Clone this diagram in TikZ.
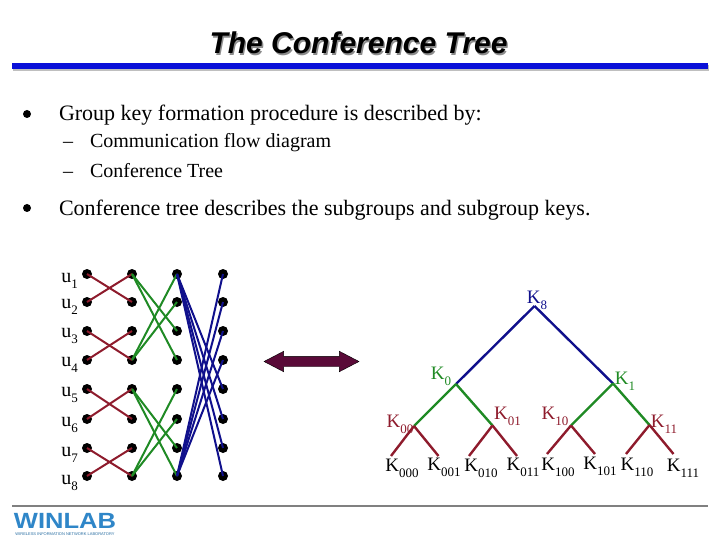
\documentclass[tikz,border=0pt]{standalone}
\usepackage{fontspec}
\setmainfont{Liberation Serif}
\setsansfont{Liberation Sans}
\usetikzlibrary{shapes.arrows}
\definecolor{cblue}{HTML}{10108C}
\definecolor{cgreen}{HTML}{1F8A24}
\definecolor{cred}{HTML}{8E1B2C}
\definecolor{crule}{HTML}{0A10D8}
\definecolor{clogo}{HTML}{2F86C8}
\definecolor{cmaroon}{HTML}{5A0A38}
\newcommand{\sbs}[1]{\raisebox{-0.32em}{\fontsize{13}{13}\selectfont #1}}
\tikzset{
  every node/.style={inner sep=0pt, outer sep=0pt},
  title/.style={font=\sffamily\bfseries\itshape\fontsize{30}{30}\selectfont, anchor=base},
  bigtext/.style={font=\fontsize{22}{22}\selectfont, anchor=base west},
  subtext/.style={font=\fontsize{20}{20}\selectfont, anchor=base west},
  bullet/.style={circle, fill=black, minimum size=8pt},
  dot/.style={circle, fill=black, minimum size=10pt},
  user/.style={font=\fontsize{20}{20}\selectfont, anchor=base},
  keylabel/.style={font=\fontsize{19}{19}\selectfont, anchor=base},
  redline/.style={draw=cred, line width=2pt},
  greenline/.style={draw=cgreen, line width=2pt},
  blueline/.style={draw=cblue, line width=2pt},
  treeline/.style={line width=2.4pt},
}

\begin{document}
\begin{tikzpicture}[x=1pt, y=-1pt]
  \useasboundingbox (0,0) rectangle (720,540);
  % heading
  \node[title, text=black!45] (ts) at (359.8,55.5) {The Conference Tree};
  \node[title] (t) at (358.5,54) {The Conference Tree};
  \fill[black!25] (13,65) rectangle (709,71);
  \fill[crule] (12,63) rectangle (708,69);
  % text lines
  \node[bullet] (p1) at (27,114) {};
  \node[bigtext] (l1) at (59,121) {Group key formation procedure is described by:};
  \node[subtext] (d1) at (63,148) {–};
  \node[subtext] (l2) at (90,148) {Communication flow diagram};
  \node[subtext] (d2) at (63,178) {–};
  \node[subtext] (l3) at (90,178) {Conference Tree};
  \node[bullet] (p2) at (27,208) {};
  \node[bigtext] (l4) at (59,215) {Conference tree describes the subgroups and subgroup keys.};
  % users
  \node[user] (u1) at (69.5,282) {u\sbs{1}};
  \node[user] (u2) at (69.5,308) {u\sbs{2}};
  \node[user] (u3) at (69.5,337) {u\sbs{3}};
  \node[user] (u4) at (69.5,366) {u\sbs{4}};
  \node[user] (u5) at (69.5,396) {u\sbs{5}};
  \node[user] (u6) at (69.5,426) {u\sbs{6}};
  \node[user] (u7) at (69.5,456) {u\sbs{7}};
  \node[user] (u8) at (69.5,484) {u\sbs{8}};
  % columns of dots
  \node[dot] (a1) at (87,274) {}; \node[dot] (b1) at (132,274) {}; \node[dot] (c1) at (177,274) {}; \node[dot] (e1) at (223,274) {};
  \node[dot] (a2) at (87,302) {}; \node[dot] (b2) at (132,302) {}; \node[dot] (c2) at (177,302) {}; \node[dot] (e2) at (223,302) {};
  \node[dot] (a3) at (87,331) {}; \node[dot] (b3) at (132,331) {}; \node[dot] (c3) at (177,331) {}; \node[dot] (e3) at (223,331) {};
  \node[dot] (a4) at (87,360) {}; \node[dot] (b4) at (132,360) {}; \node[dot] (c4) at (177,360) {}; \node[dot] (e4) at (223,360) {};
  \node[dot] (a5) at (87,389) {}; \node[dot] (b5) at (132,389) {}; \node[dot] (c5) at (177,389) {}; \node[dot] (e5) at (223,389) {};
  \node[dot] (a6) at (87,419) {}; \node[dot] (b6) at (132,419) {}; \node[dot] (c6) at (177,419) {}; \node[dot] (e6) at (223,419) {};
  \node[dot] (a7) at (87,448) {}; \node[dot] (b7) at (132,448) {}; \node[dot] (c7) at (177,448) {}; \node[dot] (e7) at (223,448) {};
  \node[dot] (a8) at (87,476) {}; \node[dot] (b8) at (132,476) {}; \node[dot] (c8) at (177,476) {}; \node[dot] (e8) at (223,476) {};
  % exchanges
  \draw[redline] (a1.center) -- (b2.center); \draw[redline] (a2.center) -- (b1.center);
  \draw[redline] (a3.center) -- (b4.center); \draw[redline] (a4.center) -- (b3.center);
  \draw[redline] (a5.center) -- (b6.center); \draw[redline] (a6.center) -- (b5.center);
  \draw[redline] (a7.center) -- (b8.center); \draw[redline] (a8.center) -- (b7.center);
  \draw[greenline] (b1.center) -- (c3.center); \draw[greenline] (b1.center) -- (c4.center);
  \draw[greenline] (b4.center) -- (c1.center); \draw[greenline] (b4.center) -- (c2.center);
  \draw[greenline] (b5.center) -- (c7.center); \draw[greenline] (b5.center) -- (c8.center);
  \draw[greenline] (b8.center) -- (c5.center); \draw[greenline] (b8.center) -- (c6.center);
  \draw[blueline] (c1.center) -- (e5.center); \draw[blueline] (c1.center) -- (e6.center);
  \draw[blueline] (c1.center) -- (e7.center); \draw[blueline] (c1.center) -- (e8.center);
  \draw[blueline] (c8.center) -- (e1.center); \draw[blueline] (c8.center) -- (e2.center);
  \draw[blueline] (c8.center) -- (e3.center); \draw[blueline] (c8.center) -- (e4.center);
  % double arrow
  \node[double arrow, draw=black, line width=0.4pt, fill=cmaroon, inner ysep=5pt, minimum height=95pt,
    double arrow head extend=5pt, double arrow tip angle=55] (da) at (311.5,361.5) {};
  % tree
  \coordinate (r) at (534.5,306);
  \coordinate (n0) at (456,384); \coordinate (n1) at (613,383.5);
  \coordinate (n00) at (414,426); \coordinate (n01) at (492.5,425.5);
  \coordinate (n10) at (571,425.5); \coordinate (n11) at (649.5,425);
  \coordinate (f000) at (391,456); \coordinate (f001) at (438.5,456);
  \coordinate (f010) at (469,456); \coordinate (f011) at (517,456);
  \coordinate (f100) at (547,454); \coordinate (f101) at (595,454);
  \coordinate (f110) at (626,454); \coordinate (f111) at (673.5,454);
  \draw[treeline, draw=cblue] (r) -- (n0); \draw[treeline, draw=cblue] (r) -- (n1);
  \draw[treeline, draw=cgreen] (n0) -- (n00); \draw[treeline, draw=cgreen] (n0) -- (n01);
  \draw[treeline, draw=cgreen] (n1) -- (n10); \draw[treeline, draw=cgreen] (n1) -- (n11);
  \draw[treeline, draw=cred] (n00) -- (f000); \draw[treeline, draw=cred] (n00) -- (f001);
  \draw[treeline, draw=cred] (n01) -- (f010); \draw[treeline, draw=cred] (n01) -- (f011);
  \draw[treeline, draw=cred] (n10) -- (f100); \draw[treeline, draw=cred] (n10) -- (f101);
  \draw[treeline, draw=cred] (n11) -- (f110); \draw[treeline, draw=cred] (n11) -- (f111);
  % key labels
  \node[keylabel, text=cblue] (ks) at (537,303) {K\sbs{8}};
  \node[keylabel, text=cgreen] (k0) at (441,379) {K\sbs{0}};
  \node[keylabel, text=cgreen] (k1) at (625,384) {K\sbs{1}};
  \node[keylabel, text=cred] (k00) at (400,427) {K\sbs{00}};
  \node[keylabel, text=cred] (k01) at (507.5,419) {K\sbs{01}};
  \node[keylabel, text=cred] (k10) at (555,419) {K\sbs{10}};
  \node[keylabel, text=cred] (k11) at (664,427) {K\sbs{11}};
  \node[keylabel] (k000) at (402,471) {K\sbs{000}};
  \node[keylabel] (k001) at (444,470) {K\sbs{001}};
  \node[keylabel] (k010) at (481,471) {K\sbs{010}};
  \node[keylabel] (k011) at (523,470) {K\sbs{011}};
  \node[keylabel] (k100) at (558,470) {K\sbs{100}};
  \node[keylabel] (k101) at (600,469) {K\sbs{101}};
  \node[keylabel] (k110) at (637,470) {K\sbs{110}};
  \node[keylabel] (k111) at (683,471) {K\sbs{111}};
  % footer
  \fill[black!50] (12,505) rectangle (708,507);
  \node[font=\sffamily\bfseries\fontsize{22}{22}\selectfont, text=clogo, xscale=1.16, anchor=base] (logo) at (65,528) {WINLAB};
  \node[font=\sffamily\fontsize{4}{4}\selectfont, text=clogo!80!black, anchor=base] (logotxt) at (65,535) {WIRELESS INFORMATION NETWORK LABORATORY};
\end{tikzpicture}
\end{document}
